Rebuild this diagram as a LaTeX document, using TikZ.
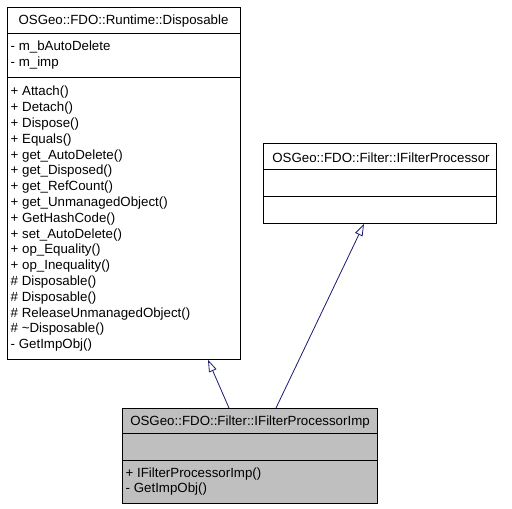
\documentclass[tikz,border=0pt]{standalone}
\usepackage{fontspec}
\setmainfont{Liberation Sans}
\usetikzlibrary{arrows.meta,calc}
\definecolor{edgeblue}{RGB}{25,25,112}
\definecolor{boxgray}{RGB}{191,191,191}

\begin{document}
\begin{tikzpicture}[x=1pt, y=-1pt,
		classbox/.style={draw, line width=0.8pt, anchor=north west, inner sep=0pt},
		title/.style={font=\fontsize{13.3}{15.8}\selectfont, inner sep=0pt},
		member/.style={font=\fontsize{13.3}{15.8}\selectfont, anchor=west, inner sep=0pt},
		inherit/.style={draw=edgeblue, line width=0.8pt, -{Triangle[open, length=12pt, width=8pt]}}]
				\useasboundingbox (0,0) rectangle (512,509);
				% base class Disposable
				\node[classbox, minimum width=233pt, minimum height=352pt] (disp) at (7,7) {};
				\node[title] (disptitle) at (123.5,21.5) {OSGeo::FDO::Runtime::Disposable};
				\draw[line width=0.8pt] ($(disp.north west)+(0,26)$) -- ($(disp.north east)+(0,26)$);
				\draw[line width=0.8pt] ($(disp.north west)+(0,70)$) -- ($(disp.north east)+(0,70)$);
				\node[member] (da1) at (10.5,47.5) {- m\_bAutoDelete};
				\node[member] (da2) at (10.5,63.5) {- m\_imp};
				\foreach \m [count=\i from 0] in {+ Attach(), + Detach(), + Dispose(), + Equals(),
						+ get\_AutoDelete(), + get\_Disposed(), + get\_RefCount(), + get\_UnmanagedObject(),
						+ GetHashCode(), + set\_AutoDelete(), + op\_Equality(), + op\_Inequality(),
						\# Disposable(), \# Disposable(), \# ReleaseUnmanagedObject(),
						\# \textasciitilde Disposable(), - GetImpObj()}
					\node[member] (dm\i) at (10.5,92.5+15.8*\i) {\m};
				% interface IFilterProcessor
				\node[classbox, minimum width=233pt, minimum height=80pt] (filt) at (263,143) {};
				\node[title] (filttitle) at (381,157.5) {OSGeo::FDO::Filter::IFilterProcessor};
				\draw[line width=0.8pt] ($(filt.north west)+(0,26)$) -- ($(filt.north east)+(0,26)$);
				\draw[line width=0.8pt] ($(filt.north west)+(0,53)$) -- ($(filt.north east)+(0,53)$);
				% derived class IFilterProcessorImp
				\node[classbox, fill=boxgray, minimum width=255pt, minimum height=95pt] (imp) at (122,408) {};
				\node[title] (imptitle) at (250,422.5) {OSGeo::FDO::Filter::IFilterProcessorImp};
				\draw[line width=0.8pt] ($(imp.north west)+(0,25.5)$) -- ($(imp.north east)+(0,25.5)$);
				\draw[line width=0.8pt] ($(imp.north west)+(0,52.5)$) -- ($(imp.north east)+(0,52.5)$);
				\node[member] (im1) at (125.5,474.5) {+ IFilterProcessorImp()};
				\node[member] (im2) at (125.5,489) {- GetImpObj()};
				% inheritance
				\draw[inherit] ($(imp.north west)+(107,0)$) -- ($(disp.south west)+(201,0)$);
				\draw[inherit] ($(imp.north west)+(154,0)$) -- ($(filt.south west)+(101,0)$);
			\end{tikzpicture}
\end{document}
